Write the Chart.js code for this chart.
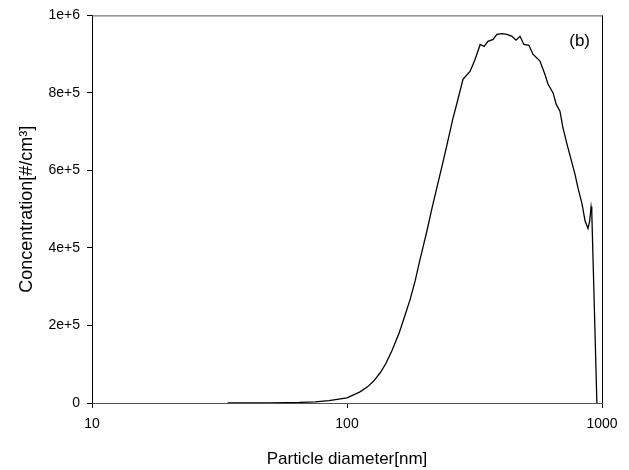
<!DOCTYPE html>
<html>
<head>
<meta charset="utf-8">
<script src="https://cdn.jsdelivr.net/npm/chart.js@4.4.1/dist/chart.umd.min.js"></script>
<style>
  html, body { margin: 0; padding: 0; background: #fff; }
  #wrap { width: 629px; height: 470px; }
</style>
</head>
<body>
<div id="wrap"><canvas id="sizeChart"></canvas></div>
<script>
// particle diameter [nm] and concentration [#/cm3]
const diameters = [34, 50, 65, 75, 85, 100, 112, 120, 127, 135, 142, 150, 160, 168, 177, 185, 193, 200,
    206, 215, 225, 236, 247, 260, 270, 285, 304, 318, 333, 345, 357, 374, 387, 405, 424, 444, 460, 477,
    494, 517, 536, 571, 597, 614, 643, 661, 684, 703, 729, 762, 783, 805, 835, 858, 881, 895, 906, 912, 955];
const concentrations = [0, 500, 1500, 3000, 6000, 13000, 28000, 41000, 56000, 78000, 102000, 135000, 180000,
    222000, 268000, 315000, 368000, 410000, 445000, 500000, 555000, 612000, 668000, 733000, 774000, 835000,
    856000, 887000, 925000, 920000, 933000, 938000, 951000, 953000, 951000, 946000, 936000, 946000, 925000,
    923000, 900000, 882000, 848000, 823000, 800000, 771000, 753000, 710000, 668000, 620000, 591000, 555000,
    514000, 470000, 450000, 470000, 506000, 490000, 0];
const xTicks = [10, 100, 1000];
const yTicks = [0, 200000, 400000, 600000, 800000, 1000000];

const font = "'Liberation Sans', Arial, sans-serif";

// top and right border of the plot box, plus the panel label
const frame = {
    id: 'frame',
    afterDraw(chart) {
        const a = chart.chartArea;
        const ctx = chart.ctx;
        ctx.save();
        ctx.lineWidth = 1;
        ctx.strokeStyle = '#555';
        ctx.beginPath();
        ctx.moveTo(a.left, a.top + 0.5);
        ctx.lineTo(a.right, a.top + 0.5);
        ctx.stroke();
        ctx.strokeStyle = '#000';
        ctx.beginPath();
        ctx.moveTo(a.right + 0.5, a.top);
        ctx.lineTo(a.right + 0.5, a.bottom);
        ctx.stroke();
        ctx.fillStyle = '#000';
        ctx.font = '17px ' + font;
        ctx.textAlign = 'right';
        ctx.textBaseline = 'middle';
        ctx.fillText('(b)', a.right - 12, a.top + 26);
        ctx.restore();
    }
};

const points = diameters.map((d, i) => ({ x: d, y: concentrations[i] }));

new Chart(document.getElementById('sizeChart'), {
    type: 'line',
    data: {
        datasets: [{
            data: points,
            borderColor: '#000',
            borderWidth: 1.3,
            pointRadius: 0,
            tension: 0,
            fill: false
        }]
    },
    options: {
        responsive: true,
        maintainAspectRatio: false,
        animation: false,
        layout: { padding: { left: 0, top: 14, right: 27, bottom: 0 } },
        plugins: { legend: { display: false }, tooltip: { enabled: false } },
        scales: {
            x: {
                type: 'logarithmic',
                min: 10,
                max: 1000,
                afterBuildTicks: scale => { scale.ticks = xTicks.map(v => ({ value: v })); },
                afterFit: scale => { scale.height = 67; },
                ticks: {
                    color: '#000',
                    font: { family: font, size: 14 },
                    padding: 8,
                    maxRotation: 0,
                    callback: v => String(v)
                },
                grid: { drawOnChartArea: false, drawTicks: true, tickLength: 5, color: '#000' },
                border: { display: true, color: '#555', width: 1 },
                title: {
                    display: true,
                    text: 'Particle diameter[nm]',
                    color: '#000',
                    font: { family: font, size: 17 },
                    padding: { top: 6, bottom: 0 }
                }
            },
            y: {
                min: 0,
                max: 1000000,
                afterBuildTicks: scale => { scale.ticks = yTicks.map(v => ({ value: v })); },
                afterFit: scale => { scale.width = 92; },
                ticks: {
                    color: '#000',
                    font: { family: font, size: 14 },
                    padding: 7,
                    callback: v => v === 0 ? '0' : v.toExponential(0)
                },
                grid: { drawOnChartArea: false, drawTicks: true, tickLength: 5, color: '#000' },
                border: { display: true, color: '#000', width: 1 },
                title: {
                    display: true,
                    text: 'Concentration[#/cm\u00B3]',
                    color: '#000',
                    font: { family: font, size: 18 },
                    padding: { top: 16, bottom: 0 }
                }
            }
        }
    },
    plugins: [frame]
});
</script>
</body>
</html>
